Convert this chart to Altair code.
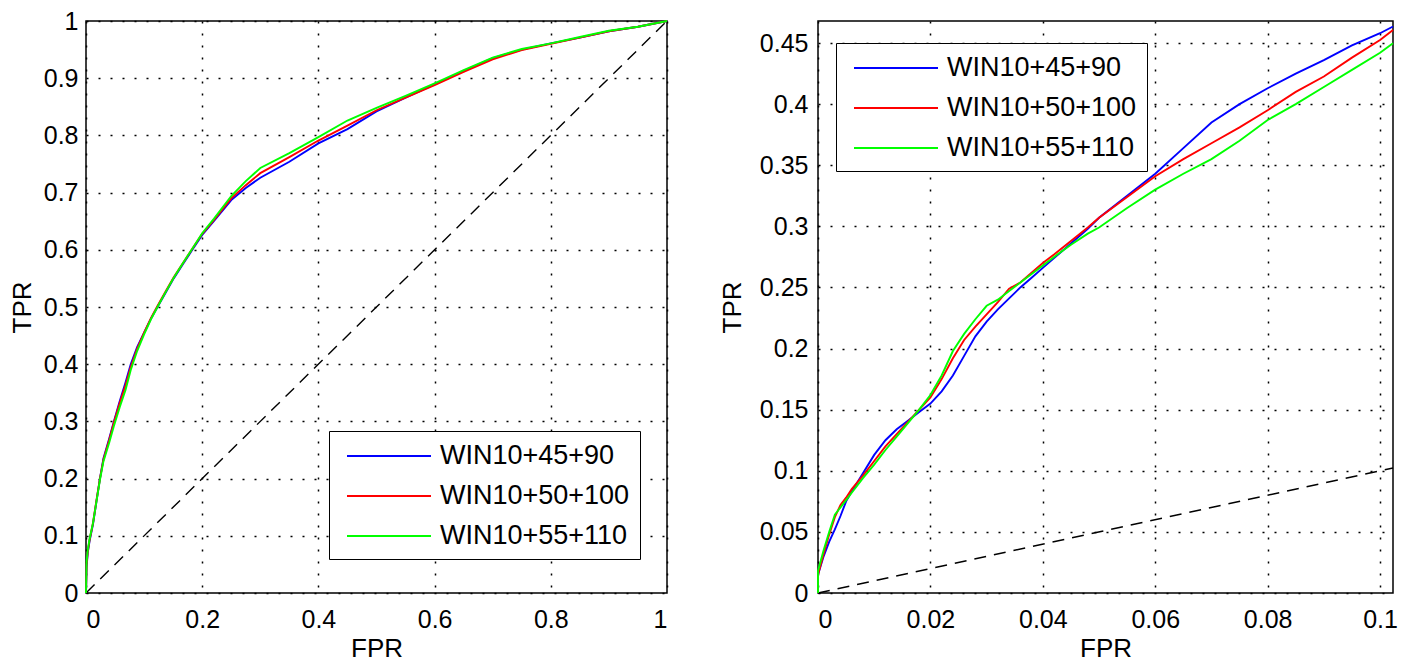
import altair as alt
import pandas as pd

SERIES = ["WIN10+45+90", "WIN10+50+100", "WIN10+55+110"]
COLORS = ["#0000ff", "#ff0000", "#00ff00"]

# ---- left panel (full ROC) ----
L_FPR = [0, 0.001, 0.003, 0.006, 0.012, 0.018, 0.024, 0.03, 0.04, 0.048, 0.058, 0.068,
         0.077, 0.088, 0.1, 0.112, 0.123, 0.137, 0.151, 0.167, 0.183, 0.2, 0.22, 0.25,
         0.275, 0.3, 0.35, 0.4, 0.45, 0.5, 0.55, 0.6, 0.65, 0.7, 0.75, 0.8, 0.85, 0.9,
         0.95, 1.0]
L_TPR_45 = [0, 0.045, 0.07, 0.09, 0.12, 0.16, 0.2, 0.235, 0.27, 0.3, 0.335, 0.368, 0.4,
            0.43, 0.455, 0.48, 0.5, 0.525, 0.55, 0.575, 0.6, 0.626, 0.65, 0.687, 0.708,
            0.726, 0.754, 0.786, 0.811, 0.842, 0.866, 0.889, 0.913, 0.935, 0.95, 0.961,
            0.971, 0.982, 0.99, 1.0]
L_TPR_50 = [0, 0.05, 0.072, 0.092, 0.122, 0.162, 0.2, 0.233, 0.268, 0.298, 0.332, 0.363,
            0.395, 0.427, 0.455, 0.481, 0.502, 0.527, 0.552, 0.577, 0.602, 0.628, 0.652,
            0.69, 0.713, 0.734, 0.762, 0.791, 0.817, 0.844, 0.866, 0.888, 0.911, 0.933,
            0.949, 0.96, 0.971, 0.982, 0.99, 1.0]
L_TPR_55 = [0, 0.055, 0.075, 0.094, 0.122, 0.16, 0.198, 0.23, 0.263, 0.292, 0.325, 0.355,
            0.39, 0.423, 0.452, 0.479, 0.5, 0.526, 0.551, 0.577, 0.602, 0.629, 0.654,
            0.694, 0.72, 0.743, 0.769, 0.797, 0.826, 0.848, 0.869, 0.891, 0.914, 0.936,
            0.951, 0.961, 0.972, 0.983, 0.99, 1.0]

# ---- right panel (zoom on low FPR) ----
R_FPR = [0, 0, 0.001, 0.002, 0.003, 0.004, 0.005, 0.006, 0.008, 0.01, 0.012, 0.014, 0.016,
         0.018, 0.02, 0.022, 0.024, 0.026, 0.028, 0.03, 0.032, 0.034, 0.036, 0.038, 0.04,
         0.042, 0.045, 0.048, 0.05, 0.055, 0.06, 0.065, 0.07, 0.075, 0.08, 0.085, 0.09,
         0.095, 0.1, 0.1023]
R_TPR_45 = [0, 0.015, 0.03, 0.042, 0.052, 0.063, 0.075, 0.083, 0.098, 0.113, 0.125, 0.134,
            0.141, 0.148, 0.155, 0.165, 0.178, 0.194, 0.21, 0.222, 0.232, 0.241, 0.25,
            0.258, 0.266, 0.274, 0.286, 0.298, 0.307, 0.325, 0.343, 0.364, 0.385, 0.4,
            0.413, 0.425, 0.436, 0.448, 0.458, 0.4635]
R_TPR_50 = [0, 0.015, 0.032, 0.048, 0.062, 0.072, 0.078, 0.085, 0.096, 0.108, 0.12, 0.13,
            0.14, 0.15, 0.16, 0.175, 0.192, 0.207, 0.218, 0.228, 0.238, 0.249, 0.254,
            0.262, 0.27, 0.277, 0.288, 0.299, 0.307, 0.324, 0.341, 0.355, 0.368, 0.381,
            0.395, 0.41, 0.4226, 0.438, 0.4525, 0.4607]
R_TPR_55 = [0, 0.018, 0.035, 0.05, 0.064, 0.07, 0.076, 0.082, 0.094, 0.105, 0.117, 0.128,
            0.139, 0.15, 0.162, 0.178, 0.198, 0.212, 0.224, 0.235, 0.24, 0.247, 0.254,
            0.261, 0.268, 0.275, 0.285, 0.294, 0.299, 0.315, 0.33, 0.343, 0.355, 0.37,
            0.387, 0.4, 0.414, 0.428, 0.442, 0.4498]

L_XTICKS = [0, 0.2, 0.4, 0.6, 0.8, 1]
L_YTICKS = [0, 0.1, 0.2, 0.3, 0.4, 0.5, 0.6, 0.7, 0.8, 0.9, 1]
R_XTICKS = [0, 0.02, 0.04, 0.06, 0.08, 0.1]
R_YTICKS = [0, 0.05, 0.1, 0.15, 0.2, 0.25, 0.3, 0.35, 0.4, 0.45]
L_DIAG = [0, 1]
R_DIAG = [0, 0.1023]

FONT = "Liberation Sans"


def make_df(fpr, tprs):
    rows = []
    for name, tpr in zip(SERIES, tprs):
        for i, (xv, yv) in enumerate(zip(fpr, tpr)):
            rows.append({"series": name, "FPR": xv, "TPR": yv, "idx": i})
    return pd.DataFrame(rows)


def panel(df, xdom, ydom, xticks, yticks, diag, lx, ly, ylabpad, ytitlepad, w, h):
    xenc = alt.X("FPR:Q", scale=alt.Scale(domain=xdom, nice=False, zero=False),
                 axis=alt.Axis(values=xticks, format="~g", title="FPR"))
    yenc = alt.Y("TPR:Q", scale=alt.Scale(domain=ydom, nice=False, zero=False),
                 axis=alt.Axis(values=yticks, format="~g", title="TPR",
                               labelPadding=ylabpad, titlePadding=ytitlepad))
    diag_df = pd.DataFrame({"FPR": diag, "TPR": diag})
    dline = alt.Chart(diag_df).mark_line(color="black", strokeDash=[12, 8],
                                         strokeWidth=1.4).encode(x=xenc, y=yenc)
    lines = alt.Chart(df).mark_line(strokeWidth=1.9).encode(
        x=xenc, y=yenc,
        color=alt.Color("series:N", scale=alt.Scale(domain=SERIES, range=COLORS),
                        legend=alt.Legend(title=None, orient="none", legendX=lx, legendY=ly,
                                          symbolType="M-0.5,0H5.5", symbolSize=784,
                                          symbolStrokeWidth=1.9,
                                          labelFont=FONT, labelFontSize=27,
                                          labelColor="black", labelOffset=71,
                                          labelLimit=400,
                                          strokeColor="black", fillColor="white",
                                          padding=10, rowPadding=12)),
        order="idx:Q",
    )
    return alt.layer(dline, lines).properties(width=w, height=h)


left = panel(make_df(L_FPR, [L_TPR_45, L_TPR_50, L_TPR_55]), [0, 1], [0, 1],
             L_XTICKS, L_YTICKS, L_DIAG, 243, 410, 8, 8, 581, 572)
right = panel(make_df(R_FPR, [R_TPR_45, R_TPR_50, R_TPR_55]), [0, 0.1023], [0, 0.468],
              R_XTICKS, R_YTICKS, R_DIAG, 18, 22, 10, 14, 575, 572)

chart = (
    alt.hconcat(left, right, spacing=46)
    .resolve_scale(color="independent", x="independent", y="independent")
    .resolve_legend(color="independent")
    .properties(padding={"left": 0, "top": 0, "right": 0, "bottom": 0})
    .configure_view(stroke="black", strokeWidth=1.5)
    .configure_axis(labelFont=FONT, labelFontSize=25, labelColor="black",
                    titleFont=FONT, titleFontSize=26, titleFontWeight="normal",
                    titleColor="black", grid=True, gridColor="black", gridDash=[2, 10],
                    gridWidth=1.5, gridOpacity=1, ticks=False, domain=False)
    .configure_axisX(labelPadding=14, titlePadding=3)
)

chart.save("out.html", embed_options={"renderer": "svg", "actions": False})
